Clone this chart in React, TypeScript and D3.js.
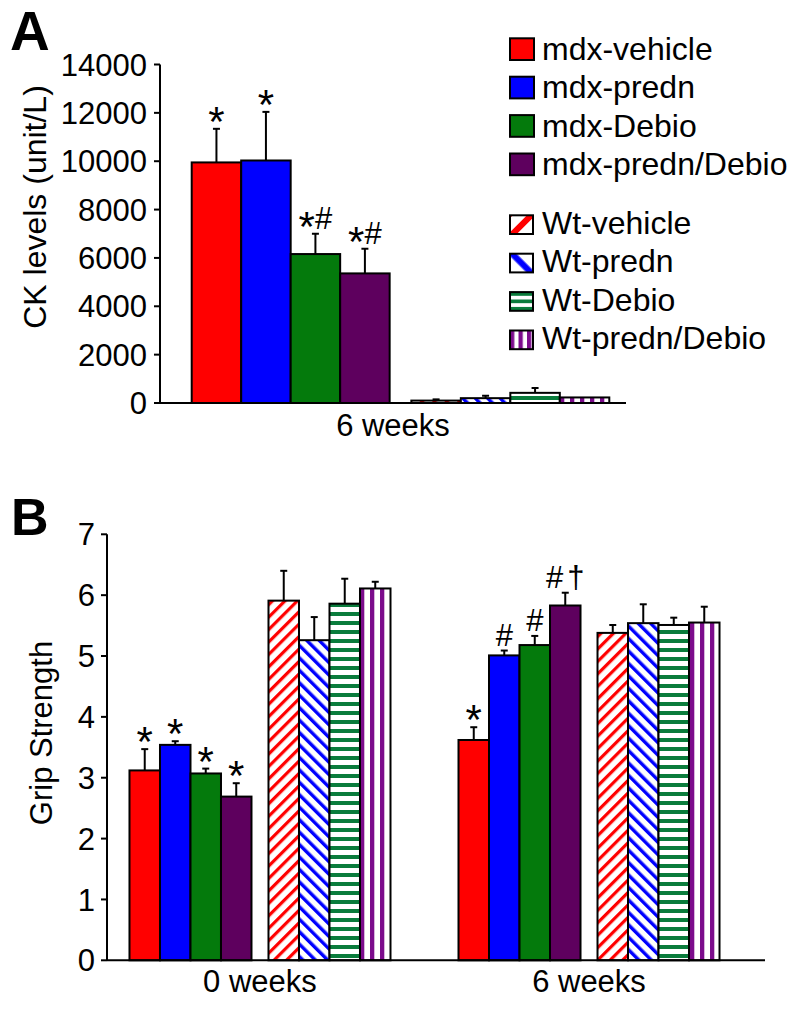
import React from 'react';
import * as d3 from 'd3';

// ---------- data ----------
const seriesNames = [
  'mdx-vehicle', 'mdx-predn', 'mdx-Debio', 'mdx-predn/Debio',
  'Wt-vehicle', 'Wt-predn', 'Wt-Debio', 'Wt-predn/Debio',
];
const seriesGroup = ['mdx', 'mdx', 'mdx', 'mdx', 'wt', 'wt', 'wt', 'wt'];
const subgroups = ['mdx', 'wt'];

const ckGroups = ['6 weeks'];
const ckMean = [9950, 10030, 6160, 5360, 100, 200, 420, 230];
const ckSem = [1390, 2010, 840, 1020, 50, 100, 200, 0];
const ckMarks = ['*', '*', '*#', '*#', '', '', '', ''];
const ckTicks = [0, 2000, 4000, 6000, 8000, 10000, 12000, 14000];

const gripWeeks = ['0 weeks', '6 weeks'];
const grip0Mean = [3.12, 3.54, 3.07, 2.69, 5.91, 5.26, 5.86, 6.11];
const grip0Sem = [0.35, 0.06, 0.08, 0.22, 0.49, 0.38, 0.41, 0.11];
const grip0Marks = ['*', '*', '*', '*', '', '', '', ''];
const grip6Mean = [3.62, 5.01, 5.18, 5.83, 5.38, 5.54, 5.51, 5.55];
const grip6Sem = [0.21, 0.08, 0.15, 0.21, 0.13, 0.31, 0.12, 0.26];
const grip6Marks = ['*', '#', '#', '#†', '', '', '', ''];
const gripTicks = [0, 1, 2, 3, 4, 5, 6, 7];

// ---------- styles ----------
const FONT = '"Liberation Sans", Arial, Helvetica, sans-serif';
const RED = '#FF0000';
const BLUE = '#0000FF';
const GREEN = '#047A0C';
const PURPLE = '#5E005E';
const WGREEN = '#0A7C3C';
const WPURPLE = '#7C0C8C';
const seriesFill = [RED, BLUE, GREEN, PURPLE, 'url(#pWtVeh)', 'url(#pWtPred)', 'url(#pWtDeb)', 'url(#pWtPD)'];
const legendFill = [RED, BLUE, GREEN, PURPLE, 'url(#lWtVeh)', 'url(#lWtPred)', 'url(#lWtDeb)', 'url(#lWtPD)'];

function Mark({ x, y, text }: { x: number; y: number; text: string }) {
  if (!text) return null;
  const chars = Array.from(text);
  let shift = 0;
  const parts = chars.map((c, i) => {
    if (c === '*') {
      const dy = 12 - shift;
      shift = 12;
      return <tspan key={i} dy={dy} fontSize={42}>*</tspan>;
    }
    const dy = 0 - shift;
    shift = 0;
    return (
      <tspan key={i} dy={dy} dx={c === '†' ? 4 : 0} fontSize={31}>{c}</tspan>
    );
  });
  return (
    <text x={x} y={y} textAnchor="middle" fontFamily={FONT} fill="#000">
      {parts}
    </text>
  );
}

function Bars({
  groupKey, xGroup, y, means, sems, marks, subPad,
}: {
  groupKey: string;
  xGroup: d3.ScaleBand<string>;
  y: d3.ScaleLinear<number, number>;
  means: number[];
  sems: number[];
  marks: string[];
  subPad: number;
}) {
  const sub = d3.scaleBand<string>().domain(subgroups).range([0, xGroup.bandwidth()]).paddingInner(subPad);
  const inner = d3.scaleBand<number>().domain([0, 1, 2, 3]).range([0, sub.bandwidth()]);
  const g0 = xGroup(groupKey) as number;
  return (
    <g>
      {means.map((m, i) => {
        const x = g0 + (sub(seriesGroup[i]) as number) + (inner(i % 4) as number);
        const w = inner.bandwidth();
        const top = y(m);
        const errTop = y(m + sems[i]);
        const cx = x + w / 2;
        return (
          <g key={i}>
            {sems[i] > 0 && (
              <g stroke="#000" strokeWidth={2}>
                <line x1={cx} x2={cx} y1={top} y2={errTop} />
                <line x1={cx - 3.5} x2={cx + 3.5} y1={errTop} y2={errTop} />
              </g>
            )}
            <rect x={x} y={top} width={w} height={y(0) - top} fill={seriesFill[i]} stroke="#000" strokeWidth={2} />
            <Mark x={cx} y={errTop - 5} text={marks[i]} />
          </g>
        );
      })}
    </g>
  );
}

export default function App() {
  // Panel A
  const yA = d3.scaleLinear().domain([0, 14000]).range([403, 64.5]);
  const xA = d3.scaleBand<string>().domain(ckGroups).range([191.7, 609.3]).padding(0);
  const axA = { left: 160, right: 626 };

  // Panel B
  const yB = d3.scaleLinear().domain([0, 7]).range([960.3, 534.3]);
  const xB = d3.scaleBand<string>().domain(gripWeeks).range([95.5, 753.5]).paddingInner(0.2067).paddingOuter(0.1033);
  const axB = { left: 107, right: 765 };

  // Legend
  const legX = 510;
  const legendBase = seriesNames.map((_, i) => 60 + i * 38.4 + (i >= 4 ? 20.4 : 0));
  const swH = seriesNames.map((_, i) => (i < 4 ? 21.7 : 18.7));
  const swW = seriesNames.map((_, i) => (i < 4 ? 24 : 23));

  return (
    <svg width={799} height={1026} style={{ position: 'absolute', left: 0, top: 0, display: 'block', background: '#fff' }}>
      <defs>
        <pattern id="pWtVeh" patternUnits="userSpaceOnUse" width={8.8} height={8.8} patternTransform="rotate(45)">
          <rect width={8.8} height={8.8} fill="#fff" />
          <rect width={3.2} height={8.8} fill={RED} />
        </pattern>
        <pattern id="pWtPred" patternUnits="userSpaceOnUse" width={8.8} height={8.8} patternTransform="rotate(-45)">
          <rect width={8.8} height={8.8} fill="#fff" />
          <rect width={3.4} height={8.8} fill={BLUE} />
        </pattern>
        <pattern id="pWtDeb" patternUnits="userSpaceOnUse" width={10} height={9}>
          <rect width={10} height={9} fill="#fff" />
          <rect width={10} height={4} fill={WGREEN} />
        </pattern>
        <pattern id="pWtPD" patternUnits="userSpaceOnUse" width={10} height={10}>
          <rect width={10} height={10} fill="#fff" />
          <rect width={4.3} height={10} fill={WPURPLE} />
        </pattern>
        {/* legend patterns anchored to their swatches */}
        <pattern id="lWtVeh" patternUnits="userSpaceOnUse" width={16} height={16}
          patternTransform={`translate(${legX},${legendBase[4] - swH[4]}) rotate(45)`}>
          <rect width={16} height={16} fill="#fff" />
          <rect x={12} width={6} height={16} fill={RED} />
          <rect x={0} width={2} height={16} fill={RED} />
        </pattern>
        <pattern id="lWtPred" patternUnits="userSpaceOnUse" width={22} height={22}
          patternTransform={`translate(${legX},${legendBase[5] - swH[5]}) rotate(-45)`}>
          <rect width={22} height={22} fill="#fff" />
          <rect x={0} width={4.6} height={22} fill={BLUE} />
          <rect x={20.4} width={1.6} height={22} fill={BLUE} />
        </pattern>
        <pattern id="lWtDeb" patternUnits="userSpaceOnUse" width={24} height={7.4}
          patternTransform={`translate(${legX},${legendBase[6] - swH[6]})`}>
          <rect width={24} height={7.4} fill="#fff" />
          <rect width={24} height={3.7} fill={WGREEN} />
        </pattern>
        <pattern id="lWtPD" patternUnits="userSpaceOnUse" width={8.5} height={20}
          patternTransform={`translate(${legX},${legendBase[7] - swH[7]})`}>
          <rect width={8.5} height={20} fill="#fff" />
          <rect width={4.3} height={20} fill={WPURPLE} />
        </pattern>
      </defs>

      {/* ---------------- Panel A ---------------- */}
      <text x={10} y={50} fontFamily={FONT} fontWeight="bold" fontSize={55}>A</text>
      <text transform="translate(46,207) rotate(-90)" textAnchor="middle" fontFamily={FONT} fontSize={32}>CK levels (unit/L)</text>
      <g stroke="#000" strokeWidth={2}>
        <line x1={axA.left} x2={axA.left} y1={yA(14000)} y2={yA(0)} />
        {ckTicks.map((t) => (
          <line key={t} x1={axA.left - 6} x2={axA.left} y1={yA(t)} y2={yA(t)} />
        ))}
      </g>
      {ckTicks.map((t) => (
        <text key={t} x={147} y={yA(t)} dy="0.36em" textAnchor="end" fontFamily={FONT} fontSize={31}>{t}</text>
      ))}
      <Bars groupKey="6 weeks" xGroup={xA} y={yA} means={ckMean} sems={ckSem} marks={ckMarks} subPad={0.0988} />
      <line x1={axA.left} x2={axA.right} y1={yA(0)} y2={yA(0)} stroke="#000" strokeWidth={2} />
      <text x={(axA.left + axA.right) / 2} y={436} textAnchor="middle" fontFamily={FONT} fontSize={31}>6 weeks</text>

      {/* Legend */}
      {seriesNames.map((name, i) => (
        <g key={name}>
          <rect x={legX} y={legendBase[i] - swH[i]} width={swW[i]} height={swH[i]} fill={legendFill[i]} stroke="#000" strokeWidth={2} />
          <text x={542} y={legendBase[i]} fontFamily={FONT} fontSize={32}>{name}</text>
        </g>
      ))}

      {/* ---------------- Panel B ---------------- */}
      <text x={11} y={535} fontFamily={FONT} fontWeight="bold" fontSize={52}>B</text>
      <text transform="translate(52,733) rotate(-90)" textAnchor="middle" fontFamily={FONT} fontSize={31}>Grip Strength</text>
      <g stroke="#000" strokeWidth={2}>
        <line x1={axB.left} x2={axB.left} y1={yB(7)} y2={yB(0)} />
        {gripTicks.map((t) => (
          <line key={t} x1={axB.left - 6} x2={axB.left} y1={yB(t)} y2={yB(t)} />
        ))}
      </g>
      {gripTicks.map((t) => (
        <text key={t} x={95} y={yB(t)} dy="0.36em" textAnchor="end" fontFamily={FONT} fontSize={31}>{t}</text>
      ))}
      <Bars groupKey="0 weeks" xGroup={xB} y={yB} means={grip0Mean} sems={grip0Sem} marks={grip0Marks} subPad={0.1223} />
      <Bars groupKey="6 weeks" xGroup={xB} y={yB} means={grip6Mean} sems={grip6Sem} marks={grip6Marks} subPad={0.1223} />
      <line x1={axB.left} x2={axB.right} y1={yB(0)} y2={yB(0)} stroke="#000" strokeWidth={2} />
      {gripWeeks.map((w) => (
        <text key={w} x={(xB(w) as number) + xB.bandwidth() / 2} y={992} textAnchor="middle" fontFamily={FONT} fontSize={31}>{w}</text>
      ))}
    </svg>
  );
}
